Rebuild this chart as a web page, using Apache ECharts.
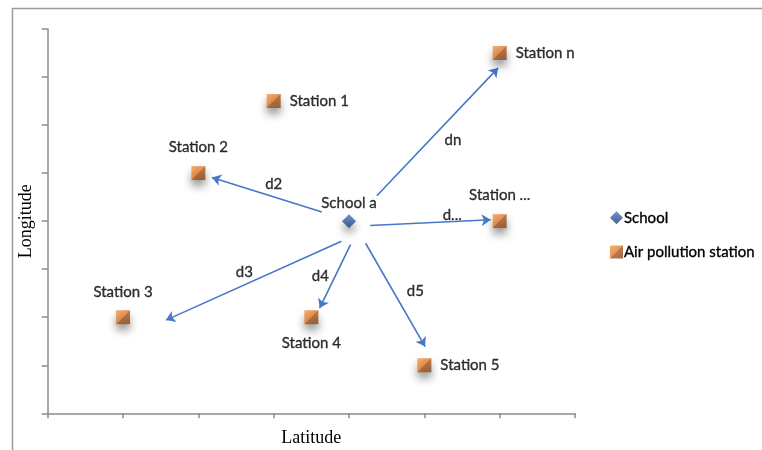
<!DOCTYPE html>
<html>
<head>
<meta charset="utf-8">
<script src="https://cdn.jsdelivr.net/npm/echarts@6/dist/echarts.min.js"></script>
<style>
    html, body { margin: 0; padding: 0; background: #fff; }
    #chart { width: 762px; height: 450px; }
</style>
</head>
<body>
<div id="chart"></div>
<script>
// school and stations (x = latitude units, y = longitude units)
let schoolName = 'School a';
let schoolPoint = [4, 4];

let stationNames = ['Station 1', 'Station 2', 'Station 3', 'Station 4', 'Station 5', 'Station n', 'Station ...'];
let stationX = [3, 2, 1, 3.5, 5, 6, 6];
let stationY = [6.5, 5, 2, 2, 1, 7.5, 4];

// distance arrows from the school towards each station
let distNames = ['d2', 'dn', 'd...', 'd3', 'd4', 'd5'];
let arrowFrom = [[3.64, 4.19], [4.37, 4.53], [4.28, 3.91], [3.90, 3.58], [4.02, 3.51], [4.22, 3.54]];
let arrowTo = [[2.18, 4.91], [5.98, 7.19], [5.88, 4.03], [1.57, 1.94], [3.61, 2.19], [5.01, 1.39]];
let distLabelAt = [[3.00, 4.76], [5.38, 5.69], [5.37, 4.13], [2.61, 2.94], [3.62, 2.86], [4.88, 2.55]];

let labelSide = {
    'Station 1': 'right', 'Station 2': 'top', 'Station 3': 'top', 'Station 4': 'bottom',
    'Station 5': 'right', 'Station n': 'right', 'Station ...': 'top'
};

let textFont = 'Lato, "Open Sans", sans-serif';
let axisColor = '#8c8c8c';
// slightly heavier text, closer to the original rendering
let textLook = {fontFamily: textFont, fontSize: 15, color: '#000', textBorderColor: '#000', textBorderWidth: 0.35};

let stationData = [];
for (let i in stationNames) {
    let side = labelSide[stationNames[i]];
    stationData.push({
        name: stationNames[i],
        value: [stationX[i], stationY[i]],
        label: {position: side, distance: side === 'right' ? 9 : 11}
    });
}

let arrowData = [];
let distData = [];
for (let i in distNames) {
    arrowData.push({coords: [arrowFrom[i], arrowTo[i]]});
    distData.push({name: distNames[i], value: distLabelAt[i]});
}

let myChart = echarts.init(document.getElementById('chart'));
let option = {
    animation: false,
    graphic: [{
        type: 'rect',
        shape: {x: 12.5, y: 8.5, width: 800, height: 500},
        style: {fill: 'none', stroke: '#9a9a9a', lineWidth: 1.5},
        silent: true
    }],
    grid: {left: 47.7, right: 187, top: 29, bottom: 36.7, outerBoundsMode: 'none'},
    legend: {
        orient: 'vertical',
        left: 605,
        top: 205,
        itemGap: 19,
        itemWidth: 13,
        itemHeight: 13,
        selectedMode: false,
        itemStyle: {shadowBlur: 0, shadowOffsetY: 0},
        textStyle: Object.assign({padding: [0, 0, 0, -4]}, textLook),
        data: ['School', 'Air pollution station']
    },
    xAxis: {
        type: 'value',
        min: 0,
        max: 7,
        interval: 1,
        name: 'Latitude',
        nameLocation: 'middle',
        nameGap: 16,
        nameTextStyle: {fontFamily: '"Liberation Serif", serif', fontSize: 18, color: '#000', verticalAlign: 'top'},
        axisLine: {show: true, lineStyle: {color: axisColor, width: 1.5}},
        axisTick: {show: true, length: 5, lineStyle: {color: axisColor, width: 1.5}},
        axisLabel: {show: false},
        splitLine: {show: false}
    },
    yAxis: {
        type: 'value',
        min: 0,
        max: 8,
        interval: 1,
        name: 'Longitude',
        nameLocation: 'middle',
        nameGap: 12,
        nameTextStyle: {fontFamily: '"Liberation Serif", serif', fontSize: 18, color: '#000'},
        axisLine: {show: true, lineStyle: {color: axisColor, width: 1.5}},
        axisTick: {show: true, length: 6, lineStyle: {color: axisColor, width: 1.5}},
        axisLabel: {show: false},
        splitLine: {show: false}
    },
    series: [
        {
            name: 'arrows',
            type: 'lines',
            coordinateSystem: 'cartesian2d',
            symbol: ['none', 'arrow'],
            symbolSize: 9,
            silent: true,
            lineStyle: {color: '#4677c8', width: 1.6, opacity: 1},
            data: arrowData,
            z: 1
        },
        {
            name: 'distances',
            type: 'scatter',
            symbolSize: 0,
            silent: true,
            label: Object.assign({show: true, position: 'inside', formatter: '{b}'}, textLook),
            data: distData,
            z: 3
        },
        {
            name: 'School',
            type: 'scatter',
            symbol: 'diamond',
            symbolSize: 14,
            itemStyle: {
                color: new echarts.graphic.LinearGradient(0, 0, 0, 1, [
                    {offset: 0, color: '#4b78c6'},
                    {offset: 0.5, color: '#31589f'},
                    {offset: 1, color: '#1f3f80'}
                ]),
                shadowBlur: 8,
                shadowOffsetY: 6,
                shadowColor: 'rgba(0,0,0,0.5)'
            },
            label: Object.assign({show: true, position: 'top', distance: 3, formatter: '{b}'}, textLook),
            data: [{name: schoolName, value: schoolPoint}],
            z: 4
        },
        {
            name: 'Air pollution station',
            type: 'scatter',
            symbol: 'rect',
            symbolSize: 14,
            itemStyle: {
                color: new echarts.graphic.LinearGradient(0, 0, 1, 1, [
                    {offset: 0, color: '#f29a4c'},
                    {offset: 0.5, color: '#e27a2c'},
                    {offset: 0.5, color: '#a95820'},
                    {offset: 1, color: '#8a4617'}
                ]),
                shadowBlur: 8,
                shadowOffsetY: 6,
                shadowColor: 'rgba(0,0,0,0.5)'
            },
            label: Object.assign({show: true, formatter: '{b}'}, textLook),
            data: stationData,
            z: 4
        }
    ]
};
myChart.setOption(option);
</script>
</body>
</html>
